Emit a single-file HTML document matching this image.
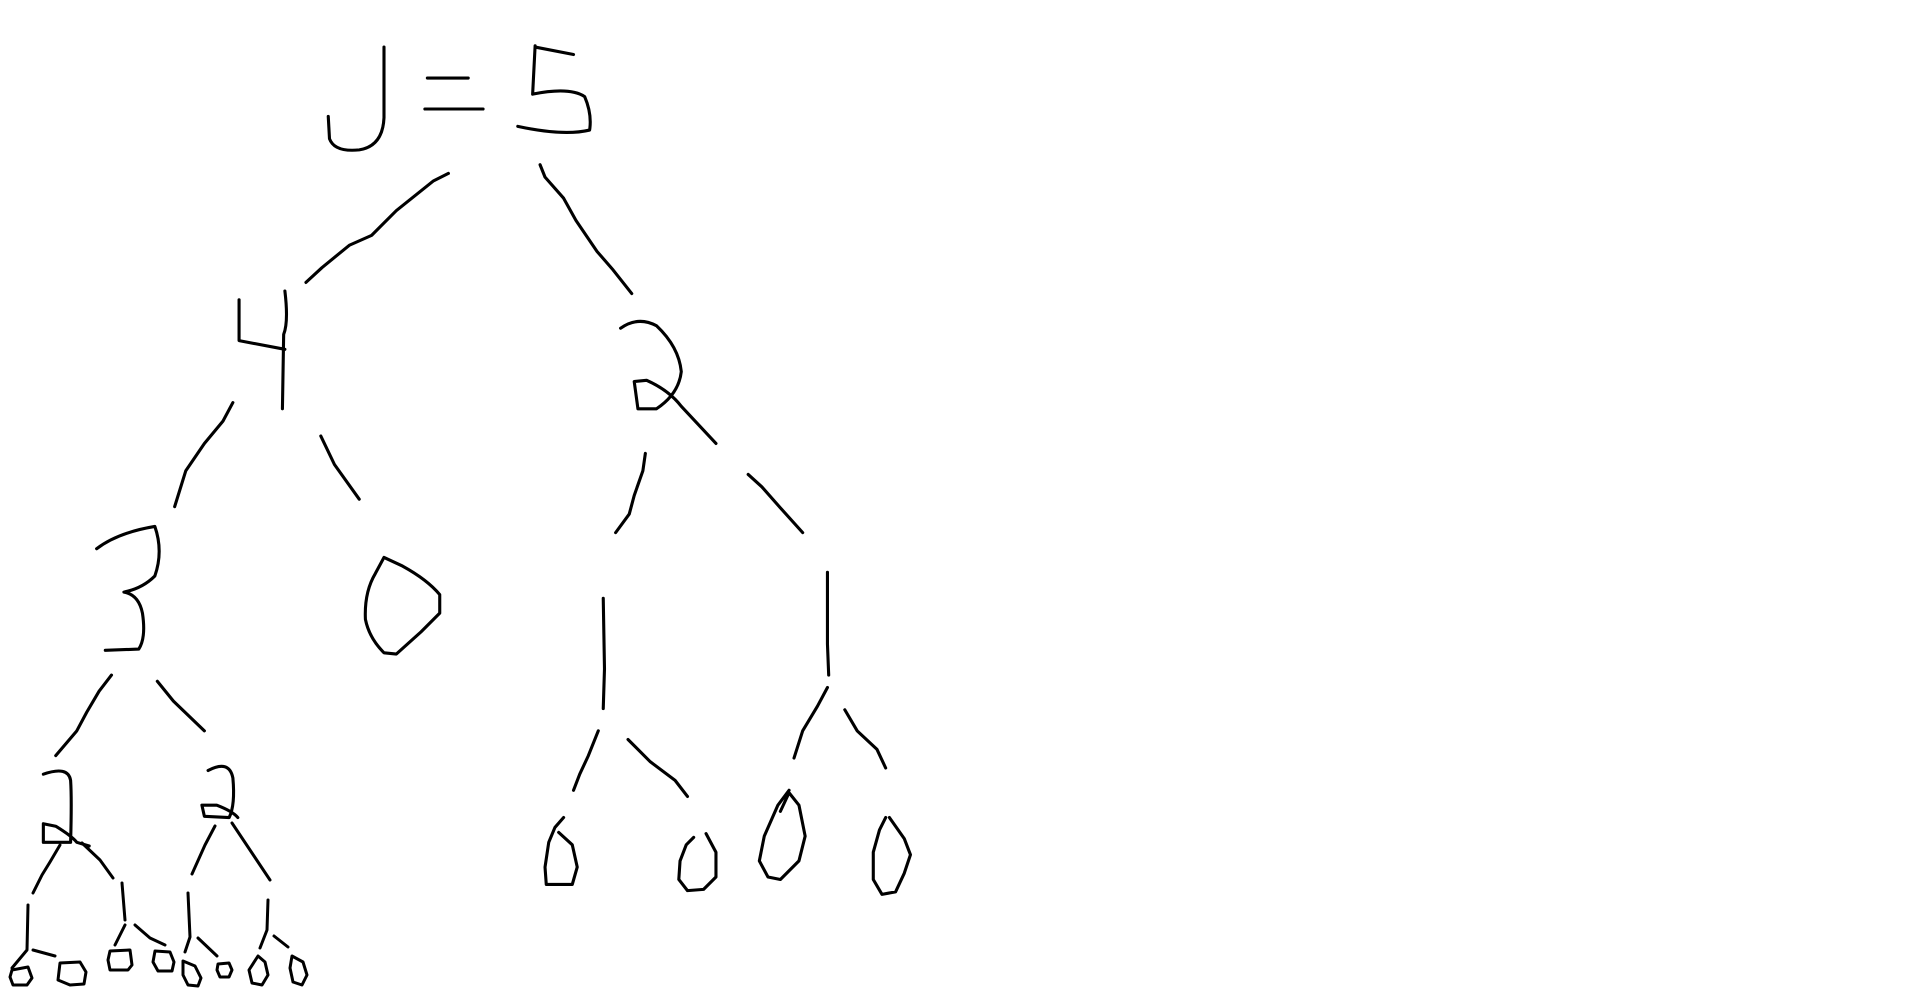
<!DOCTYPE html>
<html><head><meta charset="utf-8"><style>html,body{margin:0;padding:0;background:#fff;overflow:hidden}svg{display:block}</style></head>
<body>
<svg width="1920" height="994" viewBox="0 0 1920 994" xmlns="http://www.w3.org/2000/svg">
<title>J = 5 recursion tree sketch</title>
<g fill="none" stroke="#000" stroke-width="2.5" stroke-linecap="round" stroke-linejoin="round" transform="scale(1.2387)">
<g>
<path d="M310,38 L310,95 Q309,118 290,121 Q270,123 266,112 L265,94"/>
<path d="M345,63 L378,63 M343,88 L390,88"/>
<path d="M432,37 L430,76 M432,38 L463,44 M430,76 Q460,70 472,78 Q478,92 476,105 Q455,110 418,102"/>
</g>
<path d="M362,140 L350,146 L320,170 L300,190 L282,198 L260,216 L247,228"/>
<path d="M436,133 L440,143 L455,160 L465,178 L482,203 L495,218 L510,237"/>
<path d="M193,242 L193,275 L230,282 M230,235 Q233,260 229,270 L228,330"/>
<path d="M501,265 Q515,255 530,263 Q548,280 550,300 Q548,318 530,330 L515,330 L512,308 L522,307 Q540,315 550,328 L578,358"/>
<path d="M188,325 L180,340 L165,358 L150,380 L141,409 M259,352 L270,375 L290,403"/>
<path d="M78,443 Q95,430 125,425 Q132,445 125,465 Q115,475 100,478 Q112,480 115,495 Q118,515 112,524 L85,525"/>
<path d="M310,450 L325,457 Q345,468 355,480 L355,495 L340,510 L320,528 L310,527 Q298,515 295,500 Q294,478 303,463 Z"/>
<path d="M521,366 L519,380 L512,400 L508,415 L497,430 M604,383 L615,393 L630,410 L648,430"/>
<path d="M487,483 L488,540 L487,572 M668,462 L668,520 L669,545"/>
<path d="M90,545 L80,558 L70,575 L62,590 L45,610 M127,550 L140,566 L165,590"/>
<path d="M35,625 Q55,618 57,630 Q58,645 57,680 L35,680 L35,665 L45,667 Q58,675 62,680 L72,683"/>
<path d="M168,622 Q185,613 188,628 Q190,650 185,660 L165,659 L163,650 L175,650 Q188,655 192,660"/>
<path d="M483,590 L475,610 L468,625 L463,638 M507,597 L525,615 L545,630 L555,643"/>
<path d="M668,555 L660,570 L648,590 L641,612 M682,573 L692,590 L708,605 L715,620"/>
<path d="M455,660 L448,668 L443,680 L440,700 L441,714 L462,714 L466,700 L462,682 L451,672"/>
<path d="M570,673 L578,688 L578,708 L568,718 L555,719 L548,710 L549,695 L554,682 L560,676"/>
<path d="M637,638 L628,650 L617,675 L613,695 L620,708 L630,710 L645,695 L650,675 L645,650 L637,640 L630,655"/>
<path d="M715,660 L710,670 L705,688 L705,710 L712,722 L723,720 L730,705 L735,690 L730,677 L718,660"/>
</g>
<g fill="none" stroke="#000" stroke-width="3" stroke-linecap="round" stroke-linejoin="round">
<path d="M60,845 L50,862 L42,875 L33,893 M82,843 L100,860 L113,878"/>
<path d="M28,905 L27,950 L12,968 M33,950 L55,956"/>
<path d="M122,883 L125,920 M125,925 L115,945 M135,925 L150,938 L165,945"/>
<path d="M215,826 L205,845 L192,874 M232,823 L250,850 L270,880"/>
<path d="M188,893 L190,937 L185,952 M198,938 L217,956"/>
<path d="M268,900 L267,930 L260,948 M274,936 L288,947"/>
<path d="M12,970 L28,967 L32,978 L27,985 L13,985 L10,977 Z"/>
<path d="M60,963 L80,962 L86,972 L84,984 L70,985 L58,980 Z"/>
<path d="M110,951 L130,950 L132,965 L128,970 L110,970 L108,960 Z"/>
<path d="M155,951 L170,952 L174,962 L172,971 L158,971 L153,962 Z"/>
<path d="M183,961 L195,966 L201,978 L198,986 L188,985 L183,975 Z"/>
<path d="M218,964 L229,963 L232,970 L229,977 L220,977 L217,970 Z"/>
<path d="M258,956 L265,962 L268,975 L262,985 L252,983 L249,970 Z"/>
<path d="M292,956 L303,962 L307,975 L302,985 L293,982 L290,968 Z"/>
</g>
</svg>
</body></html>
